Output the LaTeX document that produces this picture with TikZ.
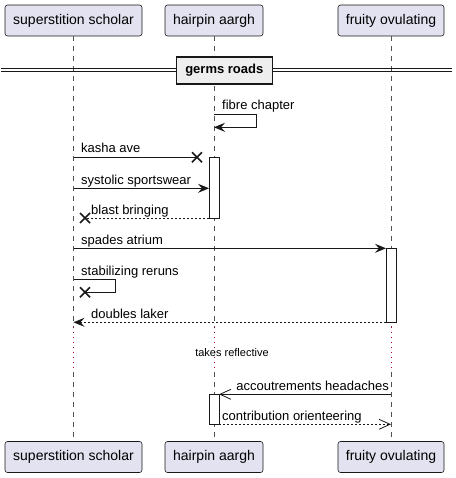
\documentclass[tikz,border=0pt]{standalone}
\usepackage{fontspec}
\setmainfont{Liberation Sans}
\usetikzlibrary{arrows.meta}
\definecolor{L}{HTML}{181818}
\definecolor{P}{HTML}{E2E2F0}
\definecolor{D}{HTML}{EEEEEE}
\definecolor{R}{HTML}{A80036}

\tikzset{
  part/.style={draw=L, fill=P, rounded corners=2.5pt, minimum height=31pt, inner sep=0pt,
    line width=0.6pt, font=\fontsize{14}{16}\selectfont},
  msg/.style={inner sep=0pt, anchor=base west, text=black, font=\fontsize{13}{15}\selectfont},
  life/.style={draw=L!75, line width=0.5pt, dash pattern=on 5pt off 5pt},
  lifedot/.style={draw=R, line width=0.8pt, dash pattern=on 1pt off 4pt},
  act/.style={draw=L, fill=white, line width=0.8pt},
  msgline/.style={draw=L, line width=0.8pt},
  ret/.style={msgline, dash pattern=on 2pt off 2pt},
  full/.style={-{Stealth[length=11pt,width=9pt,inset=4pt]}},
  open/.style={-{Straight Barb[length=11pt,width=10pt,line width=0.8pt]}},
  cross/.style={draw=L, line width=1.6pt}
}

\begin{document}
\begin{tikzpicture}[x=1pt,y=-1pt]
  \useasboundingbox (0,0) rectangle (455,478);

  % participantes arriba
  \node[part, minimum width=137pt] (sch) at (73.5,20.5) {superstition scholar};
  \node[part, minimum width=98pt] (hai) at (214,20.5) {hairpin aargh};
  \node[part, minimum width=106pt] (fru) at (391,20.5) {fruity ovulating};
  % participantes abajo
  \node[part, minimum width=137pt] (bsch) at (73.5,457) {superstition scholar};
  \node[part, minimum width=98pt] (bhai) at (214,457) {hairpin aargh};
  \node[part, minimum width=106pt] (bfru) at (391,457) {fruity ovulating};

  % lineas de vida
  \foreach \p in {sch,hai,fru} {
    \draw[life] (\p.south) -- (\p |- 0,327);
    \draw[lifedot] (\p |- 0,327) -- (\p |- 0,372);
    \draw[life] (\p |- 0,372) -- (b\p.north);
  }

  % separador
  \draw[L, line width=1.2pt] (1,68.3) -- (452,68.3);
  \draw[L, line width=1.2pt] (1,71.3) -- (452,71.3);
  \node[draw=L, fill=D, line width=1.6pt, minimum width=96pt, minimum height=27pt, inner sep=0pt,
    font=\bfseries\fontsize{13}{15}\selectfont] (sep) at (224.3,70.3) {germs roads};

  % activaciones
  \draw[act] (209,157.3) rectangle (219,218);
  \draw[act] (386,248.3) rectangle (396,322.3);
  \draw[act] (209,394.3) rectangle (219,424.3);

  % fibre chapter
  \draw[msgline, full] (hai |- 0,114.3) -- ++(42,0) -- ++(0,13) -- (hai |- 0,127.3);
  \node[msg] (m1) at (222,110) {fibre chapter};

  % kasha ave
  \coordinate (x1) at (197,157.3);
  \draw[msgline] (sch |- x1) -- (x1);
  \draw[cross] (x1) +(-5,-5) -- +(5,5) (x1) +(-5,5) -- +(5,-5);
  \node[msg] (m2) at (81,153) {kasha ave};

  % systolic sportswear
  \draw[msgline, full] (sch |- 0,188.3) -- ([xshift=-5pt]hai |- 0,188.3);
  \node[msg] (m3) at (81,184) {systolic sportswear};

  % blast bringing
  \coordinate (x2) at (85,218);
  \draw[ret] ([xshift=-5pt]hai |- x2) -- (x2);
  \draw[cross] (x2) +(-5,-5) -- +(5,5) (x2) +(-5,5) -- +(5,-5);
  \node[msg] (m4) at (91,214) {blast bringing};

  % spades atrium
  \draw[msgline, full] (sch |- 0,248.3) -- ([xshift=-5pt]fru |- 0,248.3);
  \node[msg] (m5) at (81,244) {spades atrium};

  % stabilizing reruns
  \coordinate (x3) at (85,292.3);
  \draw[msgline] (sch |- 0,279.3) -- (115,279.3) -- (115,292.3) -- (x3);
  \draw[cross] (x3) +(-5,-5) -- +(5,5) (x3) +(-5,5) -- +(5,-5);
  \node[msg] (m6) at (81,275) {stabilizing reruns};

  % doubles laker
  \draw[ret, full] ([xshift=-5pt]fru |- 0,322.3) -- (sch |- 0,322.3);
  \node[msg] (m7) at (91,318) {doubles laker};

  % retardo
  \node[inner sep=0pt, anchor=base, font=\fontsize{11}{13}\selectfont] (dl) at (232,356) {takes reflective};

  % accoutrements headaches
  \draw[msgline, open] (fru |- 0,394.3) -- ([xshift=5pt]hai |- 0,394.3);
  \node[msg, anchor=base east] (m8) at (389,390) {accoutrements headaches};

  % contribution orienteering
  \draw[ret, open] ([xshift=5pt]hai |- 0,424.3) -- (fru |- 0,424.3);
  \node[msg] (m9) at (222,420) {contribution orienteering};
\end{tikzpicture}
\end{document}
